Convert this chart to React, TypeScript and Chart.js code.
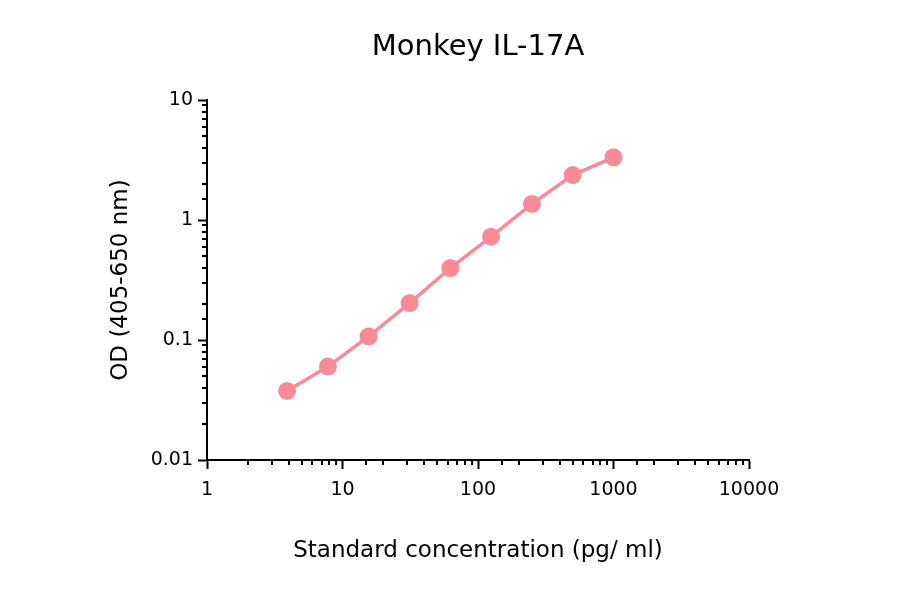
import { useEffect, useRef } from 'react';
import Chart from 'chart.js/auto';

// standard curve: concentration (pg/ml) vs OD
const concentrations: number[] = [3.9, 7.8, 15.6, 31.3, 62.5, 125, 250, 500, 1000];
const odValues: number[] = [0.0376, 0.060, 0.107, 0.203, 0.398, 0.726, 1.36, 2.37, 3.33];

const chartTitle = 'Monkey IL-17A';
const xTitle = 'Standard concentration (pg/ ml)';
const yTitle = 'OD (405-650 nm)';

const pink = '#F98A98';
const FONT = '"DejaVu Sans", sans-serif';

const isPow10 = (v: number): boolean => {
  const l = Math.log10(v);
  return Math.abs(l - Math.round(l)) < 1e-6;
};

// draws the short minor ticks and the title centred over the plot area
const extrasPlugin = {
  id: 'extras',
  afterDraw(chart: any) {
    const { ctx, chartArea } = chart;
    const xs = chart.scales.x;
    const ys = chart.scales.y;
    ctx.save();
    ctx.strokeStyle = '#000';
    ctx.lineWidth = 2;
    ctx.beginPath();
    xs.ticks.forEach((t: any) => {
      if (isPow10(t.value)) return;
      const px = Math.round(xs.getPixelForValue(t.value));
      ctx.moveTo(px, chartArea.bottom);
      ctx.lineTo(px, chartArea.bottom + 5);
    });
    ys.ticks.forEach((t: any) => {
      if (isPow10(t.value)) return;
      const py = Math.round(ys.getPixelForValue(t.value));
      ctx.moveTo(chartArea.left, py);
      ctx.lineTo(chartArea.left - 5, py);
    });
    ctx.stroke();

    ctx.fillStyle = '#000';
    ctx.font = `29px ${FONT}`;
    ctx.textAlign = 'center';
    ctx.textBaseline = 'middle';
    ctx.fillText(chartTitle, (chartArea.left + chartArea.right) / 2, 47);
    ctx.restore();
  },
};

export default function App() {
  const canvasRef = useRef<HTMLCanvasElement | null>(null);

  useEffect(() => {
    document.body.style.margin = '0';
    if (!canvasRef.current) return;

    const majorTickColor = (c: any) =>
      c.tick && isPow10(c.tick.value) ? '#000' : 'rgba(0,0,0,0)';

    const chart = new Chart(canvasRef.current, {
      type: 'scatter',
      data: {
        datasets: [
          {
            data: concentrations.map((x, i) => ({ x, y: odValues[i] })),
            showLine: true,
            borderColor: pink,
            backgroundColor: pink,
            borderWidth: 3.5,
            pointRadius: 9,
            pointHoverRadius: 9,
            pointBorderWidth: 0,
          },
        ],
      },
      options: {
        responsive: true,
        maintainAspectRatio: false,
        animation: false,
        layout: { padding: { top: 100, right: 151, bottom: 0, left: 0 } },
        plugins: {
          legend: { display: false },
          tooltip: { enabled: false },
          title: { display: false },
        },
        scales: {
          x: {
            type: 'logarithmic',
            min: 1,
            max: 10000,
            border: { color: '#000', width: 2 },
            grid: {
              drawOnChartArea: false,
              drawTicks: true,
              tickLength: 9,
              tickWidth: 2,
              tickColor: majorTickColor,
            },
            ticks: {
              autoSkip: false,
              maxRotation: 0,
              padding: 10,
              color: '#000',
              font: { family: FONT, size: 19 },
              callback: (v: any) => (isPow10(Number(v)) ? String(Math.round(Number(v))) : ''),
            },
            title: {
              display: true,
              text: xTitle,
              color: '#000',
              font: { family: FONT, size: 23 },
              padding: { top: 0, bottom: 29 },
            },
            afterFit: (s: any) => {
              s.height = 134;
            },
          },
          y: {
            type: 'logarithmic',
            min: 0.01,
            max: 10,
            border: { color: '#000', width: 2 },
            grid: {
              drawOnChartArea: false,
              drawTicks: true,
              tickLength: 9,
              tickWidth: 2,
              tickColor: majorTickColor,
            },
            ticks: {
              autoSkip: false,
              padding: 5,
              color: '#000',
              font: { family: FONT, size: 19 },
              callback: (v: any) => {
                const n = Number(v);
                if (!isPow10(n)) return '';
                return String(parseFloat(n.toPrecision(1)));
              },
            },
            title: {
              display: true,
              text: yTitle,
              color: '#000',
              font: { family: FONT, size: 23 },
              padding: { top: 107, bottom: 0 },
            },
            afterFit: (s: any) => {
              s.width = 207;
            },
          },
        },
      },
      plugins: [extrasPlugin],
    });

    return () => chart.destroy();
  }, []);

  return (
    <div style={{ width: 900, height: 594, position: 'relative', background: '#fff' }}>
      <canvas ref={canvasRef} />
    </div>
  );
}
